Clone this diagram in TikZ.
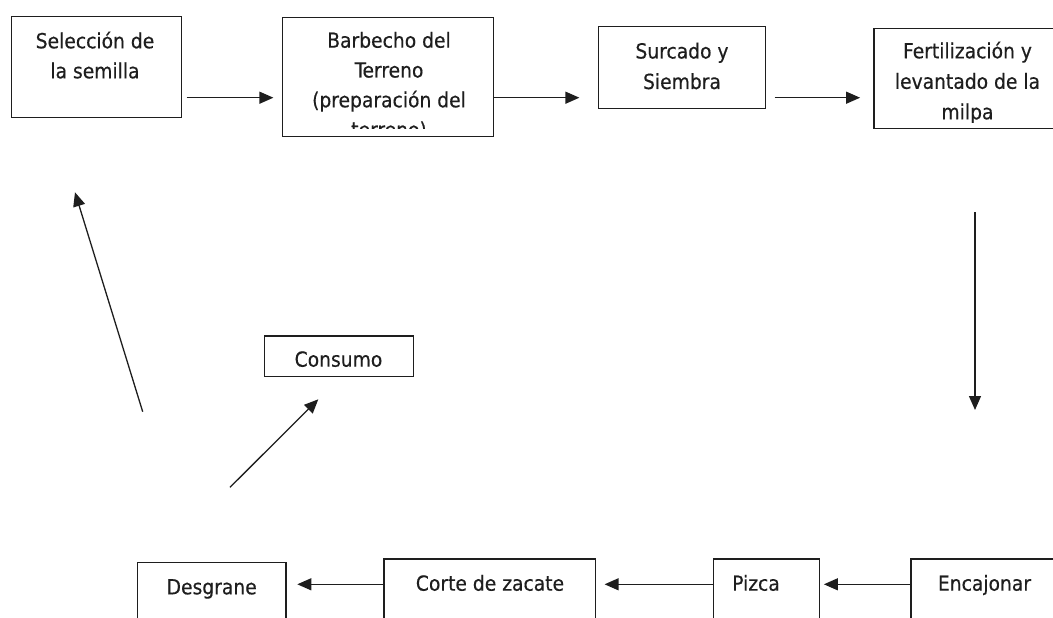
\documentclass[tikz,border=0pt]{standalone}
\usepackage{fontspec}
\setmainfont[FakeBold=0.4]{DejaVu Sans Condensed}
\usetikzlibrary{arrows.meta}
\definecolor{ink}{HTML}{1E1E1E}
\tikzset{
  box/.style={draw=ink, line width=1.2pt, inner sep=0pt, rectangle},
  txt/.style={font=\fontsize{20.8}{#1}\selectfont, inner sep=0pt, anchor=base, text=ink},
  txt/.default=30,
  arr/.style={draw=ink, line width=1.3pt, -{Triangle[length=14pt,width=12pt]}}
}
\begin{document}
\begin{tikzpicture}[x=1pt,y=-1pt]
\useasboundingbox (0,0) rectangle (1053,618);
% boxes
\node[box, minimum width=169.5pt, minimum height=101pt] (sel) at (96.45,67.2) {};
\node[box, minimum width=210.8pt, minimum height=119.4pt] (barb) at (388.1,77) {};
\node[box, minimum width=167.4pt, minimum height=82pt] (surc) at (682,67.7) {};
\node[box, minimum width=187pt, minimum height=100pt] (fert) at (967.5,78.3) {};
\node[box, minimum width=149pt, minimum height=40.7pt] (cons) at (338.8,356.35) {};
\node[box, minimum width=148.7pt, minimum height=77.3pt] (desg) at (211.65,601.35) {};
\node[box, minimum width=211.7pt, minimum height=81pt] (corte) at (489.85,599.5) {};
\node[box, minimum width=106pt, minimum height=81pt] (pizca) at (766.3,599.5) {};
\node[box, minimum width=149pt, minimum height=81pt] (enc) at (985.5,599.5) {};
% texts
\node[txt] (tsel) at (95,48.3) {\begin{tabular}[t]{@{}c@{}}Selección de\\la semilla\end{tabular}};
\begin{scope}
  \clip (barb.north west) rectangle ([yshift=8.4pt]barb.south east);
  \node[txt=29.8] (tbarb) at (389,47.7) {\begin{tabular}[t]{@{}c@{}}Barbecho del\\Terreno\\(preparación del\\terreno)\end{tabular}};
\end{scope}
\node[txt=30.5] (tsurc) at (682,58.5) {\begin{tabular}[t]{@{}c@{}}Surcado y\\Siembra\end{tabular}};
\begin{scope}
  \clip (fert.north west) rectangle ([yshift=6.6pt]fert.south east);
  \node[txt=30.5] (tfert) at (967.5,58.3) {\begin{tabular}[t]{@{}c@{}}Fertilización y\\levantado de la\\milpa\end{tabular}};
\end{scope}
\node[txt] (tcons) at (338.5,366.7) {Consumo};
\node[txt] (tdesg) at (211.7,594.3) {Desgrane};
\node[txt] (tcorte) at (490,590.7) {Corte de zacate};
\node[txt] (tpizca) at (756,590.7) {Pizca};
\node[txt] (tenc) at (984.5,590.7) {Encajonar};
% free-end coordinates
\coordinate (vtop) at (975,212);
\coordinate (vbot) at (975,410);
\coordinate (ltail) at (142.7,411.7);
\coordinate (ltip) at (75,192.3);
\coordinate (ctail) at (230,487.3);
\coordinate (ctip) at (318.3,399.3);
% connectors
\draw[arr, shorten <=4.8pt, shorten >=8.7pt] (sel.east |- 0,97.7) -- (barb.west |- 0,97.7);
\draw[arr, shorten >=18.3pt] (barb.east |- 0,97.7) -- (surc.west |- 0,97.7);
\draw[arr, shorten <=8.3pt, shorten >=13.3pt] (surc.east |- 0,97.7) -- (fert.west |- 0,97.7);
\draw[arr] (vtop) -- (vbot);
\draw[arr] (enc.west |- 0,584.3) -- ([xshift=4pt]pizca.east |- 0,584.3);
\draw[arr] (pizca.west |- 0,584.3) -- ([xshift=8.3pt]corte.east |- 0,584.3);
\draw[arr] (corte.west |- 0,584.3) -- ([xshift=10.7pt]desg.east |- 0,584.3);
\draw[arr] (ctail) -- (ctip);
\draw[arr] (ltail) -- (ltip);
\end{tikzpicture}
\end{document}
